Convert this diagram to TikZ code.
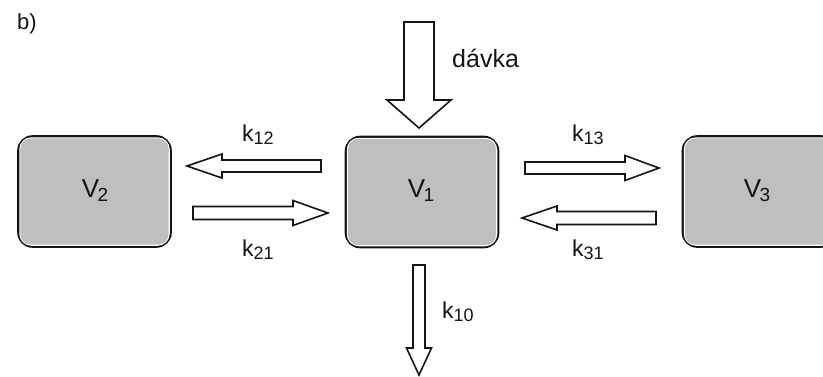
\documentclass[tikz,border=0pt]{standalone}
\usepackage{fontspec}
\setmainfont{Liberation Sans}
\usetikzlibrary{calc}
\definecolor{boxgray}{RGB}{191,191,191}
\definecolor{inkblack}{RGB}{20,20,20}

% index set lower and smaller than the main letter
\newcommand\lowidx[3][4pt]{{\fontsize{#2}{#2}\selectfont\raisebox{-#1}{#3}}}

% horizontal block arrow: tail, tip, shaft half width, head half width, head length
\newcommand\blockarrowH[5]{%
  \draw[blockarrow] let \p1=(#1), \p2=(#2), \n1={(\x2-\x1)/abs(\x2-\x1)} in
    (\x1,\y1-#3) -- (\x2-\n1*#5,\y1-#3) -- (\x2-\n1*#5,\y1-#4) -- (\x2,\y2)
    -- (\x2-\n1*#5,\y1+#4) -- (\x2-\n1*#5,\y1+#3) -- (\x1,\y1+#3) -- cycle;}
% vertical block arrow: tail, tip, shaft half width, head half width, head length
\newcommand\blockarrowV[5]{%
  \draw[blockarrow] let \p1=(#1), \p2=(#2), \n1={(\y2-\y1)/abs(\y2-\y1)} in
    (\x1-#3,\y1) -- (\x1-#3,\y2-\n1*#5) -- (\x1-#4,\y2-\n1*#5) -- (\x2,\y2)
    -- (\x1+#4,\y2-\n1*#5) -- (\x1+#3,\y2-\n1*#5) -- (\x1+#3,\y1) -- cycle;}

\tikzset{
  compart/.style={draw=inkblack, line width=2.6pt, fill=boxgray,
    rounded corners=14pt, minimum width=152pt, minimum height=110pt, inner sep=0pt},
  compartin/.style={draw=white, line width=1.1pt, rounded corners=11.5pt},
  blockarrow/.style={draw=inkblack, line width=1.6pt, fill=white, line join=miter},
  vlabel/.style={inner sep=0pt, anchor=base, text=inkblack,
    font=\fontsize{26}{26}\selectfont},
  klabel/.style={inner sep=0pt, anchor=base west, text=inkblack,
    font=\fontsize{23}{23}\selectfont},
}

\begin{document}
\begin{tikzpicture}[x=1pt, y=-1pt]
  \useasboundingbox (0,0) rectangle (823,376);
  \clip (0,0) rectangle (823,376);

  % compartments
  \node[compart] (v2) at (94.5,191.5) {};
  \node[compart] (v1) at (422,192) {};
  \node[compart] (v3) at (759,191.5) {};
  \foreach \b in {v1,v2,v3}
    \draw[compartin] ([shift={(2.6,2.6)}]\b.north west)
      rectangle ([shift={(-2.6,-2.6)}]\b.south east);

  \node[vlabel] (t2) at (95,197) {V\kern-1.5pt\lowidx{19}{2}};
  \node[vlabel] (t1) at (421,197) {V\kern-1.5pt\lowidx{19}{1}};
  \node[vlabel] (t3) at (757,197) {V\kern-1.5pt\lowidx{19}{3}};

  % arrow end points
  \coordinate (a12t) at (321,166);  \coordinate (a12h) at (187,166);
  \coordinate (a21t) at (193,213);  \coordinate (a21h) at (328,213);
  \coordinate (a13t) at (525,168);  \coordinate (a13h) at (659,168);
  \coordinate (a31t) at (656,218);  \coordinate (a31h) at (522,218);
  \coordinate (dt) at (419,22);     \coordinate (dh) at (419,128);
  \coordinate (a10t) at (419,265);  \coordinate (a10h) at (419,375);

  \blockarrowH{a12t}{a12h}{6}{12}{35}
  \blockarrowH{a21t}{a21h}{6.5}{12.5}{35}
  \blockarrowH{a13t}{a13h}{6}{12.5}{34}
  \blockarrowH{a31t}{a31h}{6.5}{12}{35}
  \blockarrowV{dt}{dh}{15}{32}{28}
  \blockarrowV{a10t}{a10h}{6}{12.5}{27}

  % labels
  \node[klabel] (k12) at (242,141) {k\lowidx[3pt]{18}{12}};
  \node[klabel] (k21) at (242,256) {k\lowidx[3pt]{18}{21}};
  \node[klabel] (k13) at (572,141) {k\lowidx[3pt]{18}{13}};
  \node[klabel] (k31) at (572,256) {k\lowidx[3pt]{18}{31}};
  \node[klabel] (k10) at (442,318) {k\lowidx[3pt]{18}{10}};
  \node[klabel, font=\fontsize{25}{25}\selectfont] (dose) at (452,67) {dávka};
  \node[klabel, font=\fontsize{22}{22}\selectfont] (tag) at (17,29) {b)};
\end{tikzpicture}
\end{document}
